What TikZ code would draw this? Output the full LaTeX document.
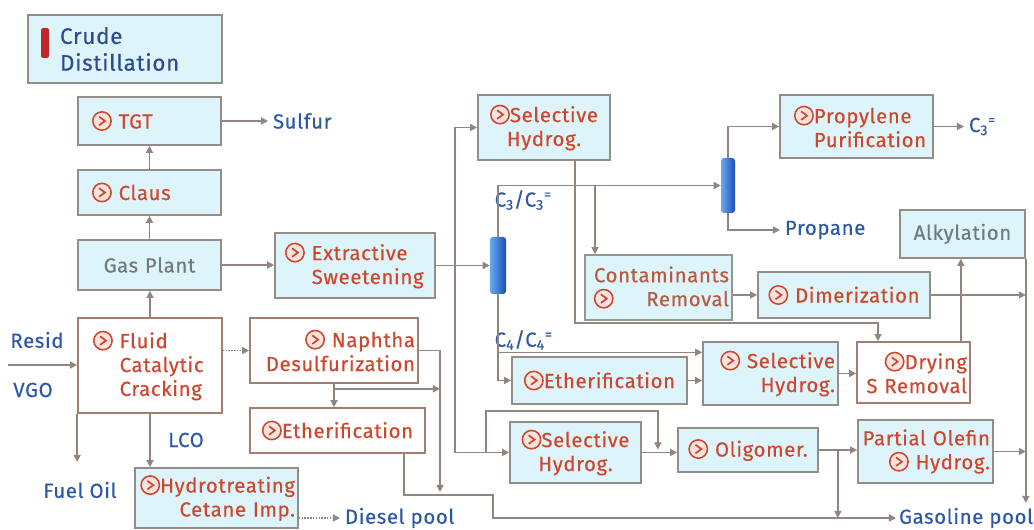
\documentclass[tikz,border=0pt]{standalone}
\usepackage{fontspec}
\setmainfont{Fira Sans}[LetterSpace=3,FakeBold=0.3]
\usetikzlibrary{arrows.meta,calc}

\definecolor{boxfill}{HTML}{DDF5FA}
\definecolor{boxline}{HTML}{958C88}
\definecolor{wline}{HTML}{A47C70}
\definecolor{contline}{HTML}{8F9A8C}
\definecolor{redtxt}{HTML}{D0462C}
\definecolor{conttxt}{HTML}{B85A40}
\definecolor{bluetxt}{HTML}{2C58A6}
\definecolor{crudetxt}{HTML}{2E4A8E}
\definecolor{greytxt}{HTML}{6F7A7A}
\definecolor{linec}{HTML}{918580}
\definecolor{coldark}{HTML}{1B4FB4}
\definecolor{collight}{HTML}{6AA8EE}
\definecolor{redbar}{HTML}{C0262A}

% small red unit icon
\newcommand{\ico}{\tikz[baseline=-0.7ex,x=1cm,y=1cm]{\draw[redtxt,line width=1.1pt,fill=redtxt!15] (0,0) circle (0.45em); \draw[redtxt,line width=1.2pt] (-0.14em,0.21em) -- (0.15em,0em) -- (-0.14em,-0.21em);}}

\begin{document}
\begin{tikzpicture}[x=0.025cm,y=-0.025cm,>={Triangle[length=5pt,width=5pt]},
  font=\fontsize{14.5}{17}\selectfont,
  sz/.style 2 args={minimum width=#1*0.025cm,minimum height=#2*0.025cm},
  tw/.code={\pgfmathsetlengthmacro\bxtw{(#1)*0.025cm}\tikzset{text width=\bxtw}},
  bx/.style 2 args={sz={#1}{#2},tw=#1-6},
  box/.style={draw=boxline,line width=1.2pt,fill=boxfill,text=redtxt,inner xsep=1.5pt,inner ysep=2pt},
  wbox/.style={box,draw=wline,fill=white},
  col/.style={rounded corners=2pt,left color=collight,right color=coldark,draw=none,inner sep=0pt},
  lbl/.style={text=bluetxt},
  ln/.style={draw=linec,line width=1pt,->}]
\fill[white] (0,0) rectangle (1034,530);
\useasboundingbox (0,0) rectangle (1034,530);

% units
\node[box,bx={194}{68},tw=130,align=left,text=crudetxt,font=\fontsize{16}{19}\selectfont] (crude) at (125,49) {Crude\\Distillation};
\fill[redbar,rounded corners=1.5pt] (41,28) rectangle (49,58);
\node[box,bx={143}{48},tw=115,align=left] (tgt) at (149.5,121) {\ico\ TGT};
\node[box,bx={143}{45},tw=115,align=left] (claus) at (149.5,192.5) {\ico\ Claus};
\node[box,bx={143}{50},align=center,text=greytxt] (gas) at (149.5,265) {Gas Plant};
\node[wbox,bx={144}{95},tw=114,align=left] (fcc) at (150,365.5) {\ico\ Fluid\\\hphantom{\ico\ }Catalytic\\\hphantom{\ico\ }Cracking};
\node[box,bx={163}{60},align=right] (hydro) at (216.5,498) {\ico Hydrotreating\\Cetane Imp.};
\node[wbox,bx={168}{65},align=right] (naph) at (334,350.5) {\ico\ Naphtha\\Desulfurization};
\node[wbox,bx={175}{45},align=center] (ethL) at (337.5,430.5) {\ico Etherification};
\node[box,bx={160}{65},tw=140,align=left] (ext) at (355,265.5) {\ico\ Extractive\\\hphantom{\ico\ }Sweetening};
\node[col,sz={16}{57}] (col1) at (498,265.5) {};
\node[box,bx={132}{65},align=center] (seltop) at (544,127.5) {\ico Selective\\Hydrog.};
\node[col,sz={14}{55}] (col2) at (728,185.5) {};
\node[box,bx={153}{63},tw=125,align=left] (prop) at (856.5,126.5) {\ico Propylene\\\hphantom{\ico}Purification};
\node[box,bx={125}{48},align=center,text=greytxt] (alky) at (962.5,234) {Alkylation};
\node[box,bx={147}{65},align=right,draw=contline,text=conttxt] (cont) at (658.5,287.5) {Contaminants\\\ico\hspace{1.6em}Removal};
\node[box,bx={172}{46},align=center] (dim) at (844,295) {\ico\ Dimerization};
\node[box,bx={175}{47},align=center] (ethM) at (599.5,380.5) {\ico Etherification};
\node[box,bx={135}{63},align=right] (selM) at (770.5,373.5) {\ico\ Selective\\Hydrog.};
\node[wbox,bx={113}{61},align=right] (dry) at (913.5,372.5) {\ico Drying\\S Removal};
\node[box,bx={131}{61},align=center] (selB) at (575.5,452.5) {\ico Selective\\Hydrog.};
\node[box,bx={140}{44},align=center] (olig) at (748,450) {\ico\ Oligomer.};
\node[box,bx={135}{63},align=right] (pol) at (925.5,451.5) {Partial Olefin\\\ico\ Hydrog.};

% streams
\node[lbl,anchor=west] (sulfur) at (268,121) {Sulfur};
\node[lbl,anchor=west] (propane) at (780,230) {Propane};
\node[lbl,anchor=west] (c3out) at (964,126.5) {C\textsubscript{3}\textsuperscript{=}};
\node[lbl] (resid) at (37,340) {Resid};
\node[lbl] (vgo) at (33,390) {VGO};
\node[lbl] (fuel) at (80,490) {Fuel Oil};
\node[lbl] (lco) at (186,440) {LCO};
\node[lbl,anchor=west] (diesel) at (340,518) {Diesel pool};
\node[lbl,anchor=west,inner xsep=2pt] (gasoline) at (896,518) {Gasoline pool};
\node[lbl,anchor=west,inner sep=1pt] (c3lab) at (493,200) {C\textsubscript{3}/C\textsubscript{3}\textsuperscript{=}};
\node[lbl,anchor=west,inner sep=1pt] (c4lab) at (493,340) {C\textsubscript{4}/C\textsubscript{4}\textsuperscript{=}};

% gas treating
\draw[ln] (claus) -- (tgt);
\draw[ln] (gas) -- (claus);
\draw[ln] (fcc.north) -- (fcc.north |- gas.south);
\draw[ln] (tgt) -- (sulfur);

% cracker
\coordinate (r0) at (8,365);
\draw[ln] (r0) -- (r0 -| fcc.west);
\draw[ln] (fcc.south west) -- ++(0,48);
\draw[ln] (fcc.south) -- (fcc.south |- hydro.north);
\draw[ln,densely dotted] (naph.west -| fcc.east) -- (naph.west);
\draw[ln,densely dotted] (diesel.west -| hydro.east) -- (diesel.west);

% split
\draw[ln] (gas.east) -- (gas.east -| ext.west);
\draw[ln] (ext.east) -- (ext.east -| col1.west);
\coordinate (j1) at (455,265);
\draw[ln] (j1) |- (seltop.west);
\draw[ln] (j1) |- (selB.west);

% C3 side
\coordinate (j2) at (595,185.5);
\draw[ln] (col1.north) |- (col2.west);
\draw[ln] (j2) -- (j2 |- cont.north);
\coordinate (k1) at (878,323);
\draw[ln] ($(seltop.south)+(31,0)$) |- (k1) -- (k1 |- dry.north);
\draw[ln] (col2.north) |- (prop.west);
\draw[ln] (col2.south) |- (propane.west);
\draw[ln] (prop.east) -- (c3out.west);

% C4 side
\path (col1.south) ++(0,58) coordinate (j3);
\draw[ln] (col1.south) |- (ethM.west);
\draw[ln] (j3) -- (j3 -| selM.west);
\draw[ln] (ethM.east) -- (ethM.east -| selM.west);
\draw[ln] (selM.east) -- (selM.east -| dry.west);
\draw[ln] (dim.west -| cont.east) -- (dim.west);
\draw[ln] (dim.east) -- (dim.east -| alky.east);
\path (dry.north east) ++(-10,0) coordinate (k2);
\draw[ln] (k2) -- (k2 |- alky.south);
\draw[ln] (alky.south east) -- (alky.south east |- gasoline.north);

% oligomerization
\draw[ln] (selB.east) -- (selB.east -| olig.west);
\draw[ln] ($(selB.west)+(-23,0)$) |- ($(selB.north east)+(16,-10)$) -- ($(selB.east)+(16,-3)$);
\draw[ln] (olig.east) -- (olig.east -| pol.west);
\path (olig.east) ++(19,0) coordinate (k3);
\draw[ln] (k3) -- (k3 |- gasoline.west);
\draw[ln] (pol.east) -- (pol.east -| alky.east);

% naphtha
\coordinate (k4) at (440,492);
\coordinate (k6) at (493,495);
\draw[ln] (naph.east) -| (k4);
\draw[ln] (naph.south) -- (naph.south |- ethL.north);
\path (naph.south) ++(0,5) coordinate (k5);
\draw[ln] (k5) -- (k5 -| k4);
\draw[ln] ($(ethL.south east)+(-22,0)$) |- (k6) |- (gasoline.west);
\end{tikzpicture}
\end{document}
